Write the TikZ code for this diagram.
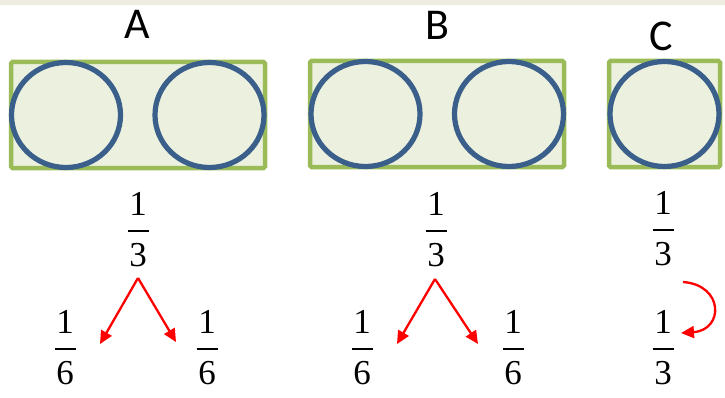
\documentclass[tikz,border=0pt]{standalone}
\usepackage{fontspec}
\newfontfamily\labelfont{Carlito}
\newfontfamily\digitfont{Liberation Serif}
\usepackage{tikz}
\usetikzlibrary{arrows.meta, positioning, shapes.geometric}

\definecolor{boxgreen}{HTML}{9BBB59}
\definecolor{boxfill}{HTML}{EBF1DE}
\definecolor{ringblue}{HTML}{3A5F8B}
\definecolor{bandgray}{HTML}{EEEBE1}

% stacked fraction in text
\newcommand{\fracstack}[2]{#1\\\rule[8.6pt]{21pt}{2pt}\\#2}

\begin{document}
\begin{tikzpicture}[
    x=1pt, y=1pt,
    frame/.style={
        rectangle,
        rounded corners=1.5pt,
        draw=boxgreen,
        fill=boxfill,
        line width=4.5pt,
        minimum width=254pt,
        minimum height=106pt,
        inner sep=0pt
    },
    ring/.style={
        ellipse,
        draw=ringblue,
        line width=5.2pt,
        minimum width=109pt,
        minimum height=105pt,
        inner sep=0pt
    },
    letter/.style={
        font=\labelfont\fontsize{44}{48}\selectfont,
        inner sep=0pt
    },
    frac/.style={
        font=\digitfont\fontsize{35}{25.5}\selectfont,
        align=center,
        inner sep=0pt
    },
    arrow/.style={
        -{Triangle[length=13pt, width=12pt]},
        draw=red,
        line width=2.3pt
    }
]
\useasboundingbox (0,0) rectangle (725,397);
\fill[bandgray] (0,392) rectangle (725,397);

% Boxes
\node[frame] (boxA) at (138,282) {};
\node[frame] (boxB) at (437,283) {};
\node[frame, minimum width=111pt] (boxC) at (664.5,283) {};

% Rings
\node[ring] (ringA1) at (66,282) {};
\node[ring] (ringA2) at (209.5,282) {};
\node[ring] (ringB1) at (365.5,283) {};
\node[ring] (ringB2) at (509,283) {};
\node[ring] (ringC) at (664.5,283) {};

% Labels above
\node[letter] (labA) at (137,372.5) {A};
\node[letter] (labB) at (437,372) {B};
\node[letter] (labC) at (661.5,361) {C};

% Fractions
\node[frac] (thirdA) at (138,167.5) {\fracstack{1}{3}};
\node[frac] (sixthA1) at (65,49.5) {\fracstack{1}{6}};
\node[frac] (sixthA2) at (207,49.5) {\fracstack{1}{6}};
\node[frac] (thirdB) at (436,167.5) {\fracstack{1}{3}};
\node[frac] (sixthB1) at (362,49.5) {\fracstack{1}{6}};
\node[frac] (sixthB2) at (513,49.5) {\fracstack{1}{6}};
\node[frac] (thirdC) at (663,168.5) {\fracstack{1}{3}};
\node[frac] (thirdC2) at (663,49.5) {\fracstack{1}{3}};

% Arrow ends
\coordinate (apexA) at (138,119);
\coordinate (tipA1) at (100,53);
\coordinate (tipA2) at (176,55);
\coordinate (apexB) at (435,118);
\coordinate (tipB1) at (397,53);
\coordinate (tipB2) at (478,53);
\coordinate (startC) at (683,115);
\coordinate (tipC) at (681,64);

% Arrows
\draw[arrow] (apexA) -- (tipA1);
\draw[arrow] (apexA) -- (tipA2);
\draw[arrow] (apexB) -- (tipB1);
\draw[arrow] (apexB) -- (tipB2);
\draw[arrow] (startC) .. controls (724,112) and (724,67) .. (tipC);
\end{tikzpicture}
\end{document}
